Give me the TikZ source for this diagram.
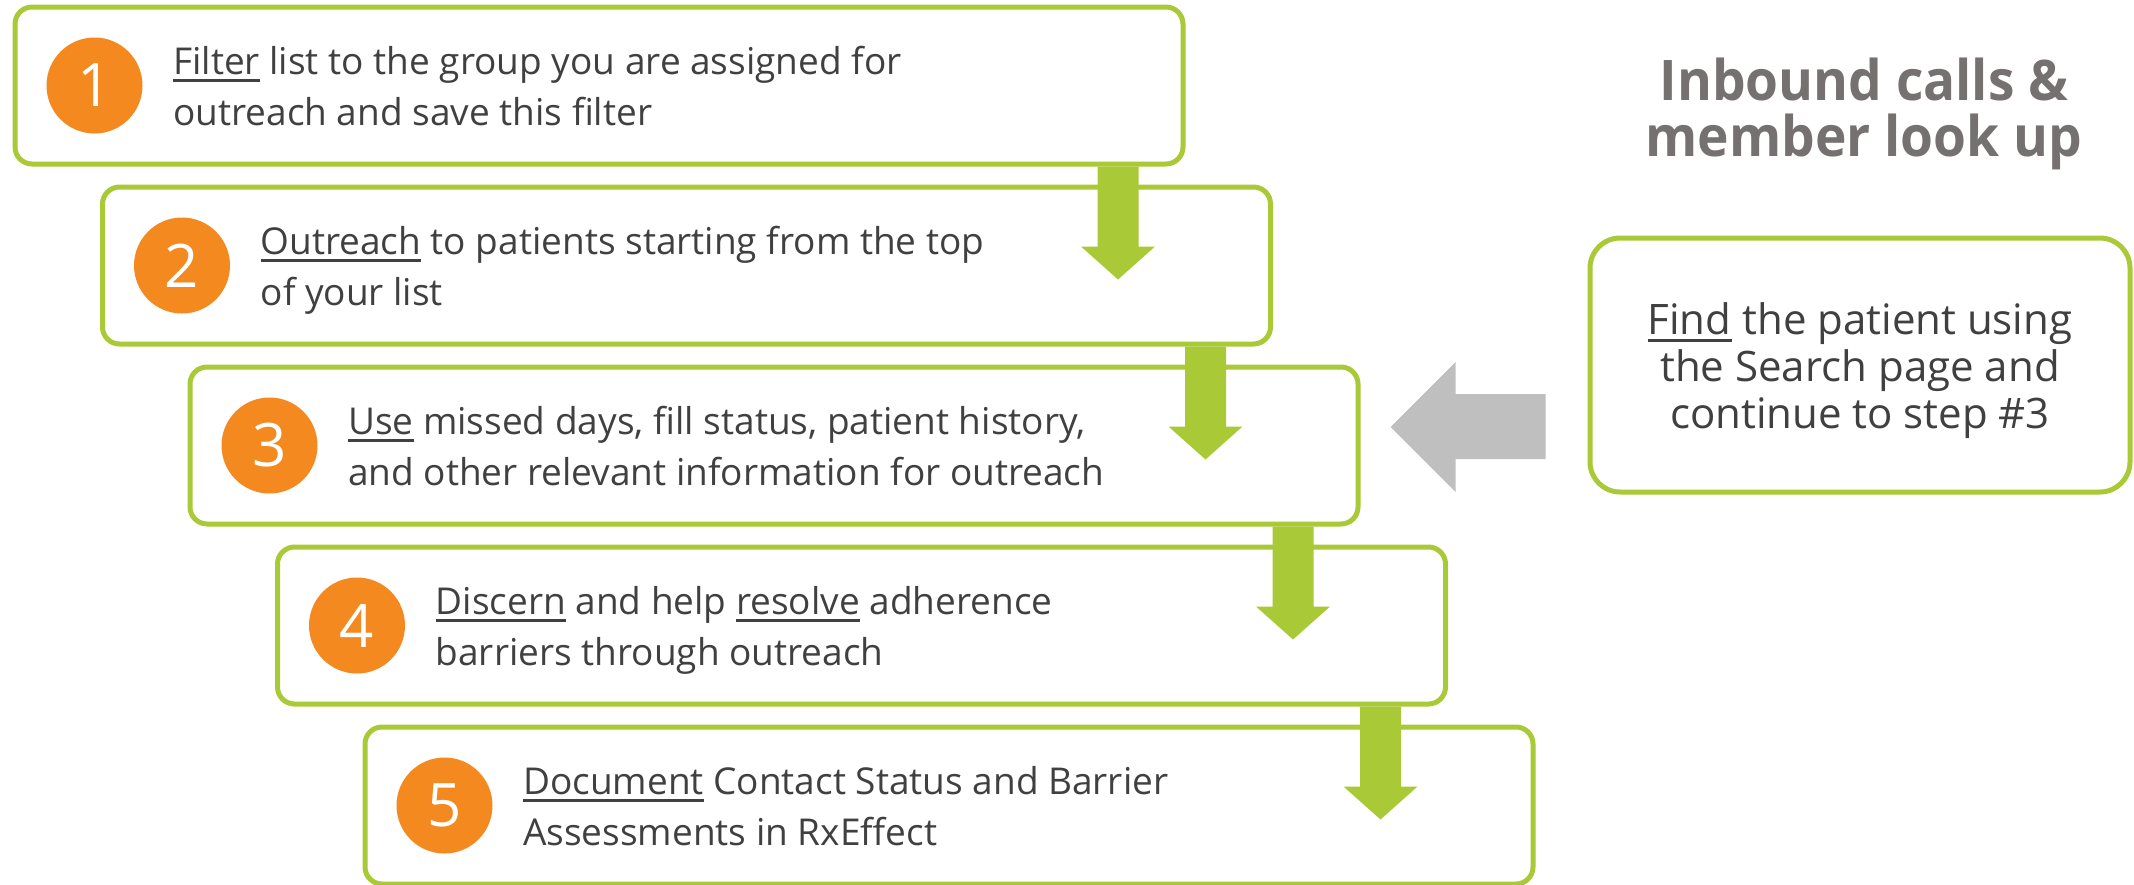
\documentclass[tikz,border=0pt]{standalone}
\usepackage{fontspec}
\setmainfont{Open Sans}
\newfontfamily\titlefont[FakeStretch=0.95]{Open Sans}
\definecolor{lgreen}{HTML}{AAC936}
\definecolor{dorange}{HTML}{F4891F}
\definecolor{tgray}{HTML}{404040}
\definecolor{titlegray}{HTML}{767171}
\definecolor{arrowgray}{HTML}{BFBFBF}
\newcommand\myul[1]{\leavevmode\setbox0\hbox{#1}\rlap{\rule[-7.5pt]{\wd0}{3pt}}\box0\relax}
\newcommand\twoline[2]{\vtop{\hbox{#1}\hbox{#2}}}
\newcommand\cenlines[1]{\vtop{\halign{\hfil##\hfil\cr#1\crcr}}}
\begin{document}
\begin{tikzpicture}[x=1pt,y=-1pt,
  stepbox/.style={draw=lgreen, line width=5pt, rounded corners=17pt, fill=white,
    minimum width=1168pt, minimum height=157pt, inner sep=0pt},
  numcirc/.style={circle, fill=dorange, minimum size=96pt, inner sep=0pt, text=white,
    font=\fontsize{60}{60}\selectfont},
  steptext/.style={anchor=base west, inner sep=0pt, text=tgray,
    font=\fontsize{37}{50.5}\selectfont},
  downarrow/.style={fill=lgreen},
  grayarrow/.style={fill=arrowgray},
  sidebox/.style={draw=lgreen, line width=5pt, rounded corners=30pt, fill=white,
    minimum width=540pt, minimum height=254pt, inner sep=0pt},
  sidetext/.style={anchor=base, inner sep=0pt, text=tgray,
    font=\fontsize{42}{47}\selectfont},
  titletext/.style={anchor=base, inner sep=0pt, text=titlegray,
    font=\titlefont\fontsize{56}{56}\selectfont\bfseries}
]
\useasboundingbox (0,0) rectangle (2134,884);

% step boxes
\node[stepbox] (s1) at (599,85.5) {};
\node[stepbox] (s2) at (686.5,265.5) {};
\node[stepbox] (s3) at (774,445.5) {};
\node[stepbox] (s4) at (861.5,625.5) {};
\node[stepbox] (s5) at (949,805.5) {};

% numbers
\node[numcirc] (c1) at (94.5,85.5) {1};
\node[numcirc] (c2) at (182,265.5) {2};
\node[numcirc] (c3) at (269.5,445.5) {3};
\node[numcirc] (c4) at (357,625.5) {4};
\node[numcirc] (c5) at (444.5,805.5) {5};

% step texts
\node[steptext] (t1) at (173,74.5) {\twoline{\myul{Filter} list to the group you are assigned for}{outreach and save this filter}};
\node[steptext] (t2) at (260.5,254.5) {\twoline{\myul{Outreach} to patients starting from the top}{of your list}};
\node[steptext] (t3) at (348,434.5) {\twoline{\myul{Use} missed days, fill status, patient history,}{and other relevant information for outreach}};
\node[steptext] (t4) at (435.5,614.5) {\twoline{\myul{Discern} and help \myul{resolve} adherence}{barriers through outreach}};
\node[steptext] (t5) at (523,794.5) {\twoline{\myul{Document} Contact Status and Barrier}{Assessments in RxEffect}};

% down arrows between steps
\foreach \s in {s1,s2,s3,s4}{
  \fill[downarrow] (\s.south east) ++(-88,0) -- ++(41,0) -- ++(0,80) -- ++(16.5,0)
    -- ++(-37,33) -- ++(-37,-33) -- ++(16.5,0) -- cycle;
}

% right side
\node[titletext] (title) at (1864,100) {\cenlines{Inbound calls \&\cr member look up}};
\node[sidebox] (rb) at (1860,365) {};
\node[sidetext] (rt) at (1860,334) {\cenlines{\myul{Find} the patient using\cr the Search page and\cr continue to step \#3}};

% gray arrow from side box to step 3
\fill[grayarrow] (rb.west) ++(-42,29) -- ++(0,65) -- ++(-90,0) -- ++(0,33)
  -- ++(-65,-65) -- ++(65,-65) -- ++(0,32) -- cycle;
\end{tikzpicture}
\end{document}
